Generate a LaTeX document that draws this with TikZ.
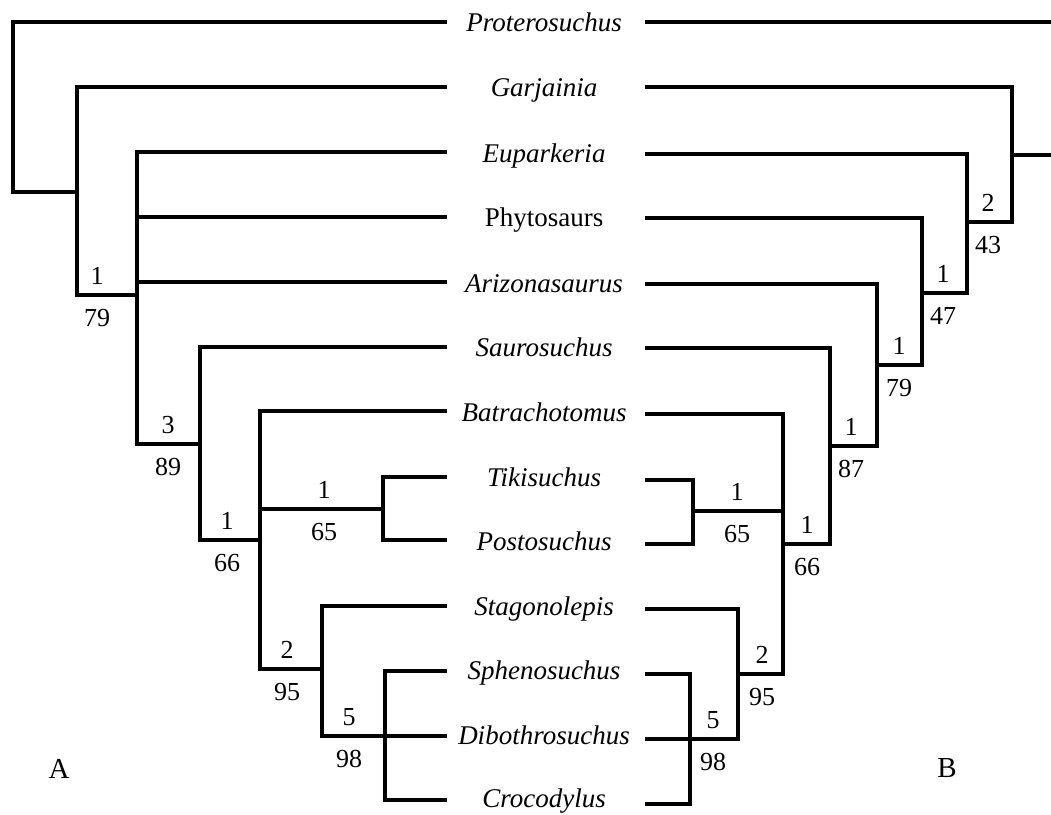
\documentclass[tikz,border=0pt]{standalone}
\usepackage{fontspec}
\setmainfont{Liberation Serif}
\begin{document}
\begin{tikzpicture}[x=1pt,y=-1pt,
  br/.style={line width=3.3pt,line cap=rect,join=miter},
  taxon/.style={anchor=base,inner sep=0pt,font=\fontsize{27}{30}\selectfont\itshape},
  group/.style={anchor=base,inner sep=0pt,font=\fontsize{27}{30}\selectfont},
  num/.style={anchor=base,inner sep=0pt,font=\fontsize{26}{30}\selectfont},
  panel/.style={anchor=base,inner sep=0pt,font=\fontsize{29}{32}\selectfont}]
\useasboundingbox (0,0) rectangle (1051,814);

% row heights of the two trees (left / right), taxon names in between
\foreach \i/\yl/\yr/\dy/\name/\st in {
  1/22/22/9/Proterosuchus/taxon,
  2/87/87/9/Garjainia/taxon,
  3/152/154/9/Euparkeria/taxon,
  4/217/218/9/Phytosaurs/group,
  5/282/284/9/Arizonasaurus/taxon,
  6/347/348/9/Saurosuchus/taxon,
  7/411/414/9/Batrachotomus/taxon,
  8/477/480/8/Tikisuchus/taxon,
  9/540/544/8/Postosuchus/taxon,
  10/606/609/8/Stagonolepis/taxon,
  11/671/674/7/Sphenosuchus/taxon,
  12/736/739/7/Dibothrosuchus/taxon,
  13/800/804/5/Crocodylus/taxon}{
  \coordinate (la\i) at (445,\yl);
  \coordinate (rb\i) at (647,\yr);
  \node[\st] (t\i) at (544,{(\yl+\yr)/2+\dy}) {\name};
}

% ---------- tree A (root on the left) ----------
\coordinate (rA)  at (13,192);
\coordinate (a1)  at (77,192);  \coordinate (a1b) at (77,295);
\coordinate (a2)  at (137,295); \coordinate (a2b) at (137,444);
\coordinate (a3)  at (200,444); \coordinate (a3b) at (200,540);
\coordinate (a4)  at (260,540); \coordinate (a4b) at (260,669);
\coordinate (a5)  at (383,509);
\coordinate (a6)  at (322,669); \coordinate (a6b) at (322,736);
\coordinate (a7)  at (385,736);

\draw[br] (la1) -| (rA) -- (a1);
\draw[br] (la2) -| (a1b) -- (a2);
\draw[br] (la3) -| (a2b) -- (a3);
\draw[br] (la4) -- (la4 -| a2);
\draw[br] (la5) -- (la5 -| a2);
\draw[br] (la6) -| (a3b) -- (a4);
\draw[br] (la7) -| (a4b) -- (a6);
\draw[br] (a4 |- a5) -- (a5);
\draw[br] (la8) -| (la9 -| a5) -- (la9);
\draw[br] (la10) -| (a6b) -- (la12);
\draw[br] (la11) -| (la13 -| a7) -- (la13);

% ---------- tree B (root on the right) ----------
\coordinate (eR1) at (1056,22);
\coordinate (b1)  at (1012,155); \coordinate (eR2) at (1056,155);
\coordinate (b1b) at (1012,222);
\coordinate (b2)  at (967,222);  \coordinate (b2b) at (967,293);
\coordinate (b3)  at (922,293);  \coordinate (b3b) at (922,365);
\coordinate (b4)  at (877,365);  \coordinate (b4b) at (877,446);
\coordinate (b5)  at (830,446);  \coordinate (b5b) at (830,544);
\coordinate (b6)  at (783,544);  \coordinate (b6b) at (783,674);
\coordinate (b7)  at (693,511);
\coordinate (b8)  at (738,674);  \coordinate (b8b) at (738,739);
\coordinate (b9)  at (690,739);

\draw[br] (rb1) -- (eR1);
\draw[br] (b1) -- (eR2);
\draw[br] (rb2) -| (b1b) -- (b2);
\draw[br] (rb3) -| (b2b) -- (b3);
\draw[br] (rb4) -| (b3b) -- (b4);
\draw[br] (rb5) -| (b4b) -- (b5);
\draw[br] (rb6) -| (b5b) -- (b6);
\draw[br] (rb7) -| (b6b) -- (b8);
\draw[br] (b6 |- b7) -- (b7);
\draw[br] (rb8) -| (rb9 -| b7) -- (rb9);
\draw[br] (rb10) -| (b8b) -- (rb12);
\draw[br] (rb11) -| (rb13 -| b9) -- (rb13);

% ---------- branch support: Bremer value above, bootstrap below ----------
\foreach \k/\x/\y/\up/\dn in {
  A1/97/295/1/79, A2/168/444/3/89, A3/227/540/1/66, A4/324/509/1/65,
  A5/287/669/2/95, A6/349/736/5/98,
  B1/988/222/2/43, B2/943/293/1/47, B3/899/365/1/79, B4/851/446/1/87,
  B5/807/544/1/66, B6/737/511/1/65, B7/762/674/2/95, B8/713/739/5/98}{
  \node[num] (u\k) at (\x,\y-11) {\up};
  \node[num] (d\k) at (\x,\y+31) {\dn};
}

\node[panel] (pA) at (59,778) {A};
\node[panel] (pB) at (947,777) {B};
\end{tikzpicture}
\end{document}
